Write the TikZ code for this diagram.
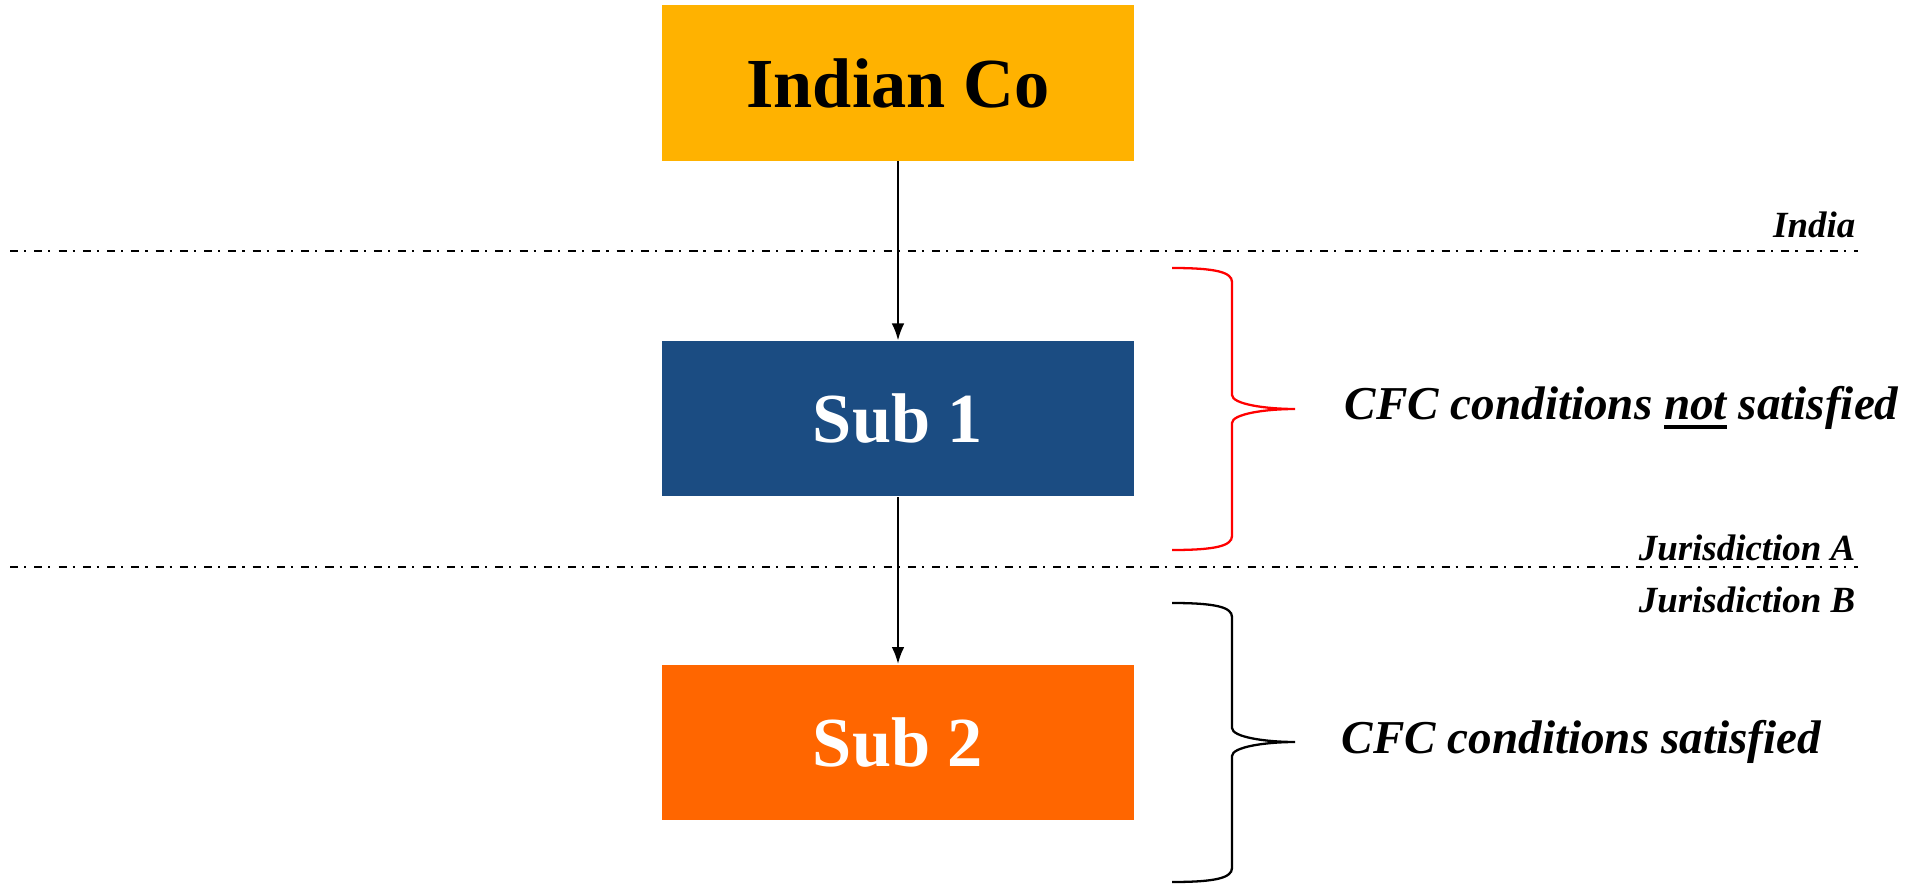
\documentclass[tikz,border=0pt]{standalone}
\usepackage{fontspec}
\setmainfont{Liberation Serif}
\usetikzlibrary{positioning,arrows,arrows.meta}

\definecolor{coyellow}{RGB}{255,178,0}
\definecolor{subblue}{RGB}{27,76,130}
\definecolor{suborange}{RGB}{255,102,0}
\newcommand{\thickul}[1]{\setbox0\hbox{#1}\rlap{\rule[-2.6pt]{\wd0}{1.1pt}}#1}

\begin{document}
\begin{tikzpicture}[x=0.01cm,y=-0.01cm]
    \useasboundingbox (0,0) rectangle (1921,885);
    \begin{scope}[node distance=1.8cm,
        mybox/.style={rectangle, minimum width=4.71cm, minimum height=1.55cm, inner sep=0pt,
            font=\fontsize{20}{24}\selectfont\bfseries},
        myedge/.style={{Latex[length=4.8pt,width=3.6pt]}-, line width=0.55pt},
        mysep/.style={line width=0.55pt, dash pattern=on 2.3pt off 1.7pt on 0.6pt off 2.3pt},
        myjur/.style={anchor=east, inner sep=0pt, font=\fontsize{10.5}{12}\selectfont\bfseries\itshape},
        mycfc/.style={anchor=west, inner sep=0pt, font=\fontsize{13.4}{16}\selectfont\bfseries\itshape},
        mybrace/.style={line width=0.65pt}]
    \node [mybox, fill=coyellow] (indian) at (898,83) {Indian Co};
    \node [mybox, fill=subblue, text=white, below=1.79cm of indian] (sub1) {Sub 1} edge [myedge] (indian);
    \node [mybox, fill=suborange, text=white, below=1.67cm of sub1] (sub2) {Sub 2} edge [myedge] (sub1);
    % borders
    \coordinate (indl) at (10,251);
    \coordinate (indr) at (1858,251);
    \coordinate (jurl) at (10,567);
    \coordinate (jurr) at (1858,567);
    \draw [mysep] (indl) -- (indr);
    \draw [mysep] (jurl) -- (jurr);
    \node [myjur] (india) at (1856,225) {India};
    \node [myjur] (jura) at (1856,548) {Jurisdiction A};
    \node [myjur] (jurb) at (1856,600) {Jurisdiction B};
    % conditions
    \draw [mybrace, red] (1172,268) .. controls +(43,0) and +(0,-10) .. (1232,282) -- (1232,395)
        .. controls +(0,9) and +(-30,0) .. (1295,409) .. controls +(-30,0) and +(0,-9) .. (1232,423)
        -- (1232,536) .. controls +(0,10) and +(43,0) .. (1172,550);
    \draw [mybrace, black] (1172,603) .. controls +(43,0) and +(0,-10) .. (1232,617) -- (1232,728)
        .. controls +(0,9) and +(-30,0) .. (1295,742) .. controls +(-30,0) and +(0,-9) .. (1232,756)
        -- (1232,868) .. controls +(0,10) and +(43,0) .. (1172,882);
    \node [mycfc] (cond1) at (1344,408) {CFC conditions \thickul{not} satisfied};
    \node [mycfc] (cond2) at (1341,742) {CFC conditions satisfied};
    \end{scope}
\end{tikzpicture}
\end{document}
